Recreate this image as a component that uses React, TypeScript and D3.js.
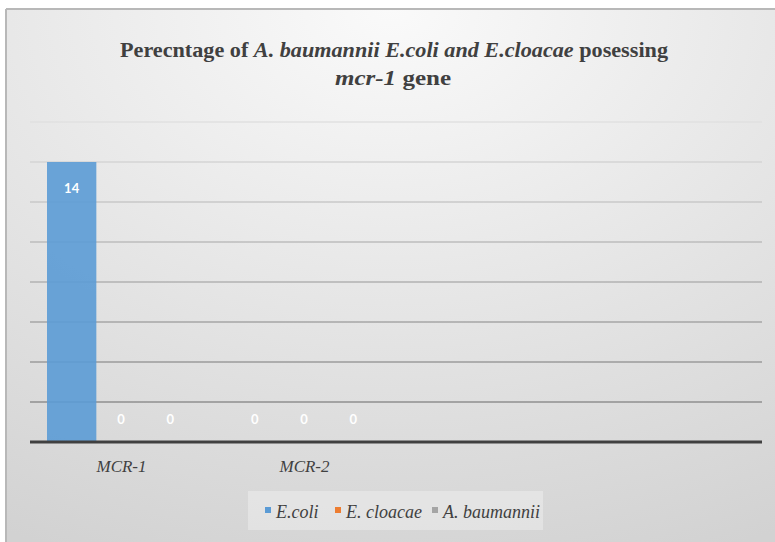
import React from "react";
import * as d3 from "d3";

const categories = ["MCR-1", "MCR-2", "c3", "c4"];
const categoryLabels = ["MCR-1", "MCR-2", "", ""];
const seriesNames = ["E.coli", "E. cloacae", "A. baumannii"];
const seriesColors = ["#5b9bd5", "#ed7d31", "#a5a5a5"];
const ecoli: (number | null)[] = [14, 0, null, null];
const cloacae: (number | null)[] = [0, 0, null, null];
const baumannii: (number | null)[] = [0, 0, null, null];
const yTicks = [0, 2, 4, 6, 8, 10, 12, 14, 16];

const W = 775;
const H = 542;

export default function App() {
  const series = [ecoli, cloacae, baumannii];
  const x = d3.scaleBand<string>().domain(categories).range([30, 762]);
  const x1 = d3
    .scaleBand<number>()
    .domain([0, 1, 2])
    .range([17, x.bandwidth() - 18]);
  const y = d3.scaleLinear().domain([0, 16]).range([442, 122]);
  const gridColor = d3.scaleLinear<string>().domain([16, 2]).range(["#e0e0e0", "#8f8f8f"]);
  const serif = '"Liberation Serif", "DejaVu Serif", serif';
  const sans = 'Lato, "Open Sans", sans-serif';

  const legendX = [267, 337, 434];

  return (
    <svg width={W} height={H} style={{ position: "absolute", left: 0, top: 0 }}>
      <defs>
        <radialGradient id="bg" cx="50%" cy="0%" r="110%" fx="50%" fy="0%">
          <stop offset="0%" stopColor="#fafafa" />
          <stop offset="100%" stopColor="#d2d2d2" />
        </radialGradient>
      </defs>
      <rect x={0} y={0} width={W} height={H} fill="#ffffff" />
      <rect x={6} y={9} width={W - 6} height={H - 9} fill="url(#bg)" />
      <line x1={6} y1={9} x2={W} y2={9} stroke="#b8b8b8" strokeWidth={2} />
      <line x1={6} y1={9} x2={6} y2={H} stroke="#b8b8b8" strokeWidth={2} />

      <g style={{ fontFamily: serif, fontWeight: "bold", fontSize: "22px" }} fill="#404040">
        <text x={394} y={57} textAnchor="middle" textLength={548} lengthAdjust="spacingAndGlyphs">
          Perecntage of <tspan style={{ fontStyle: "italic" }}>A. baumannii E.coli and E.cloacae</tspan> posessing
        </text>
        <text x={393} y={85} textAnchor="middle" textLength={116} lengthAdjust="spacingAndGlyphs">
          <tspan style={{ fontStyle: "italic" }}>mcr-1</tspan> gene
        </text>
      </g>

      {yTicks
        .filter((t) => t > 0)
        .map((t) => (
          <line
            key={t}
            x1={30}
            x2={762}
            y1={y(t)}
            y2={y(t)}
            stroke={gridColor(t)}
            strokeWidth={1.5}
          />
        ))}

      {categories.map((c, ci) =>
        series.map((s, si) => {
          const v = s[ci];
          if (v === null) return null;
          const bx = (x(c) as number) + (x1(si) as number);
          const bw = x1.bandwidth();
          return (
            <g key={c + si}>
              {v > 0 && (
                <rect
                  x={bx}
                  y={y(v)}
                  width={bw}
                  height={y(0) - y(v)}
                  fill={seriesColors[si]}
                  opacity={0.9}
                />
              )}
              <text
                x={bx + bw / 2}
                y={v > 0 ? y(v) + 31 : y(0) - 18}
                textAnchor="middle"
                style={{ fontFamily: sans, fontWeight: "bold", fontSize: "13px" }}
                fill="#ffffff"
              >
                {v}
              </text>
            </g>
          );
        })
      )}

      <line x1={30} x2={762} y1={y(0)} y2={y(0)} stroke="#404040" strokeWidth={3} />

      <g style={{ fontFamily: serif, fontStyle: "italic", fontSize: "17px" }} fill="#404040">
        {categories.map((c, ci) => (
          <text key={c} x={(x(c) as number) + x.bandwidth() / 2} y={472} textAnchor="middle">
            {categoryLabels[ci]}
          </text>
        ))}
      </g>

      <rect x={248} y={491} width={295} height={39} fill="#ffffff" opacity={0.3} />
      <g style={{ fontFamily: serif, fontStyle: "italic", fontSize: "18px" }} fill="#404040">
        {seriesNames.map((n, i) => (
          <g key={n}>
            <rect x={legendX[i] - 2} y={507} width={6} height={6} fill={seriesColors[i]} />
            <text x={legendX[i] + 9} y={518}>
              {n}
            </text>
          </g>
        ))}
      </g>
    </svg>
  );
}
